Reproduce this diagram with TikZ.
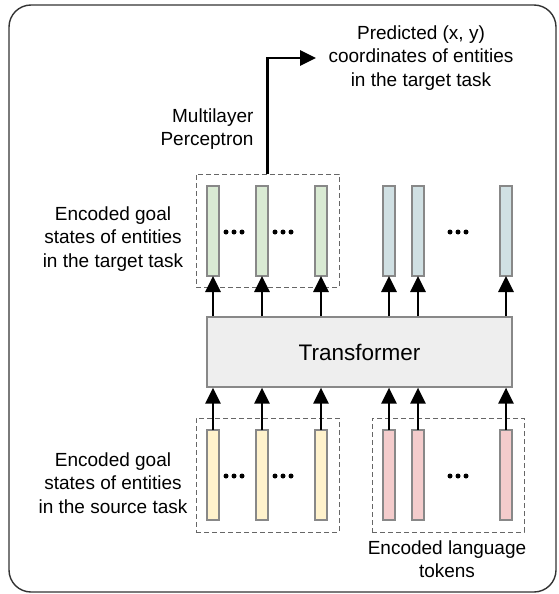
\documentclass[tikz,border=0pt]{standalone}
\usepackage{fontspec}
\setmainfont{Liberation Sans}
\usetikzlibrary{arrows.meta}
\definecolor{goalgreen}{HTML}{D9EAD3}
\definecolor{goalblue}{HTML}{D0E0E3}
\definecolor{goalyellow}{HTML}{FFF2CC}
\definecolor{langpink}{HTML}{F4CCCC}
\definecolor{transgray}{HTML}{EEEEEE}
\definecolor{edgegray}{HTML}{888888}
\begin{document}
\begin{tikzpicture}[
    x = 1pt,
    y = -1pt,
    vec/.style = {rectangle, draw=edgegray, line width=1.2pt,
              minimum width=12pt, minimum height=90pt,
              inner sep=0pt, outer sep=0pt},
    group/.style = {rectangle, draw=black!60, dash pattern=on 5pt off 3pt,
              line width=0.9pt, inner sep=0pt},
    dots/.style = {circle, fill=black, minimum size=5pt, inner sep=0pt},
    label/.style = {align=center, font=\fontsize{19}{23.5}\selectfont},
    link/.style = {-{Triangle[width=15pt,length=16pt]}, black, line width=2.7pt},
    ]

\useasboundingbox (0,0) rectangle (558,594);
\draw [black!80, line width=1.4pt, rounded corners=22pt] (9,5) rectangle (556,592);

% dashed groups
\node[group, minimum width=143pt, minimum height=113pt] (tgtbox) at (267.5,230.5){};
\node[group, minimum width=143pt, minimum height=114pt] (srcbox) at (267.5,475){};
\node[group, minimum width=152pt, minimum height=114pt] (langbox) at (448,475){};

% transformer
\node[rectangle, draw=edgegray, fill=transgray, line width=1.2pt,
      minimum width=305pt, minimum height=70pt,
      font=\fontsize{22.5}{27}\selectfont] (trans) at (359.5,352){Transformer};

% encoded vectors, top row
\node[vec, fill=goalgreen] (g1) at (213,231){};
\node[vec, fill=goalgreen] (g2) at (262,231){};
\node[vec, fill=goalgreen] (g3) at (321,231){};
\node[vec, fill=goalblue] (b1) at (389,231){};
\node[vec, fill=goalblue] (b2) at (418,231){};
\node[vec, fill=goalblue] (b3) at (506,231){};

% encoded vectors, bottom row
\node[vec, fill=goalyellow] (y1) at (213,475){};
\node[vec, fill=goalyellow] (y2) at (262,475){};
\node[vec, fill=goalyellow] (y3) at (321,475){};
\node[vec, fill=langpink] (p1) at (389,475){};
\node[vec, fill=langpink] (p2) at (418,475){};
\node[vec, fill=langpink] (p3) at (506,475){};

% ellipses between vectors
\foreach \cx/\cy in {234/232, 283/232, 458/232, 234/476, 283/476, 458/476}{
  \node[dots] at (\cx-8,\cy){};
  \node[dots] at (\cx,\cy){};
  \node[dots] at (\cx+8,\cy){};
}

% arrows into and out of the transformer
\foreach \v in {y1,y2,y3,p1,p2,p3}
  \draw [link] (\v.north) -- (\v.north |- trans.south);
\foreach \v in {g1,g2,g3,b1,b2,b3}
  \draw [link] (trans.north -| \v.south) -- (\v.south);

% multilayer perceptron output
\coordinate (mlpend) at (316,58);
\draw [link] (tgtbox.north) |- (mlpend);

% text labels
\node[label] (predtext) at (421,58) {Predicted (x, y)\\coordinates of entities\\in the target task};
\node[label, align=right, anchor=east] (mlptext) at (257,129) {Multilayer\\Perceptron};
\node[label] (tgttext) at (113,239) {Encoded goal\\states of entities\\in the target task};
\node[label] (srctext) at (113,483) {Encoded goal\\states of entities\\in the source task};
\node[label] (langtext) at (447,559) {Encoded language\\tokens};

\end{tikzpicture}
\end{document}
